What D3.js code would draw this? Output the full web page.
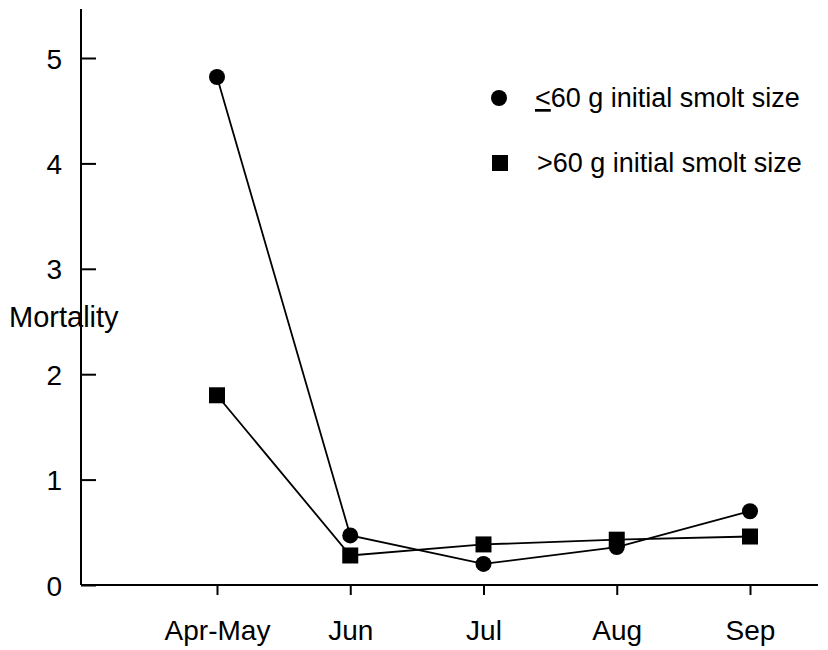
<!DOCTYPE html>
<html>
<head>
<meta charset="utf-8">
<script src="https://cdn.jsdelivr.net/npm/d3@7"></script>
<style>
  body { margin: 0; background: #fff; }
  text { font-family: "Liberation Sans", Arial, sans-serif; fill: #000; }
</style>
</head>
<body>
<svg id="canvas"></svg>
<script>
// Chart data.
var months = ['Apr-May', 'Jun', 'Jul', 'Aug', 'Sep'];
var smallSmolt = [4.82, 0.47, 0.20, 0.36, 0.70];   // <=60 g, circles
var largeSmolt = [1.80, 0.28, 0.385, 0.43, 0.46];  // >60 g, squares
var yTicks = [0, 1, 2, 3, 4, 5];
var legendLabels = ['60 g initial smolt size', '>60 g initial smolt size'];

// Canvas settings.
var canvas = {
  w: 828,
  h: 650,
  left: 81,
  right: 818,
  top: 9,
  bottom: 585,
  font: 28,
  legendFont: 27
};

var svg = d3.select('#canvas')
            .attr('width', canvas.w)
            .attr('height', canvas.h);

// Scales.
var x = d3.scalePoint()
          .domain(months)
          .range([217, 750]);

var y = d3.scaleLinear()
          .domain([0, 5])
          .range([canvas.bottom, 58]);

// Y axis label, drawn under the axis line.
svg.append('text')
   .attr('x', 9)
   .attr('y', 327)
   .style('font-size', '29px')
   .text('Mortality');

// Y axis.
var yAxis = svg.append('g')
               .attr('transform', 'translate(' + canvas.left + ',0)')
               .call(d3.axisRight(y).tickValues(yTicks).tickSize(15).tickFormat(d3.format('d')));

yAxis.select('.domain').remove();
yAxis.selectAll('line').attr('stroke', '#000').attr('stroke-width', 2);
yAxis.selectAll('text')
     .attr('x', -19)
     .attr('dy', '0.36em')
     .attr('text-anchor', 'end')
     .style('font-size', canvas.font + 'px');

svg.append('line')
   .attr('x1', canvas.left).attr('x2', canvas.left)
   .attr('y1', canvas.top).attr('y2', canvas.bottom)
   .attr('stroke', '#000').attr('stroke-width', 2);

// X axis.
var xAxis = svg.append('g')
               .attr('transform', 'translate(0,' + canvas.bottom + ')')
               .call(d3.axisBottom(x).tickSize(10).tickSizeOuter(0));

xAxis.select('.domain').remove();
xAxis.selectAll('line').attr('stroke', '#000').attr('stroke-width', 2);
xAxis.selectAll('text')
     .attr('y', 55)
     .attr('dy', 0)
     .style('font-size', canvas.font + 'px');

svg.append('line')
   .attr('x1', canvas.left).attr('x2', canvas.right)
   .attr('y1', canvas.bottom).attr('y2', canvas.bottom)
   .attr('stroke', '#000').attr('stroke-width', 2);

// Line generator.
var line = d3.line()
             .x(function(d, i) { return x(months[i]); })
             .y(function(d) { return y(d); });

// Series lines.
[smallSmolt, largeSmolt].forEach(function(series) {
  svg.append('path')
     .datum(series)
     .attr('d', line)
     .attr('fill', 'none')
     .attr('stroke', '#000')
     .attr('stroke-width', 1.8);
});

// Circle markers.
svg.append('g').selectAll('circle')
   .data(smallSmolt)
   .enter()
   .append('circle')
   .attr('cx', function(d, i) { return x(months[i]); })
   .attr('cy', function(d) { return y(d); })
   .attr('r', 8)
   .attr('fill', '#000');

// Square markers.
var sq = 16;
svg.append('g').selectAll('rect')
   .data(largeSmolt)
   .enter()
   .append('rect')
   .attr('x', function(d, i) { return x(months[i]) - sq / 2; })
   .attr('y', function(d) { return y(d) - sq / 2; })
   .attr('width', sq)
   .attr('height', sq)
   .attr('fill', '#000');

// Legend.
svg.append('circle')
   .attr('cx', 499).attr('cy', 98).attr('r', 8)
   .attr('fill', '#000');

var leg1 = svg.append('text')
              .attr('x', 535)
              .attr('y', 107)
              .style('font-size', canvas.legendFont + 'px');
leg1.append('tspan').style('text-decoration', 'underline').text('<');
leg1.append('tspan').text(legendLabels[0]);

svg.append('rect')
   .attr('x', 500 - sq / 2).attr('y', 163 - sq / 2)
   .attr('width', sq).attr('height', sq)
   .attr('fill', '#000');

svg.append('text')
   .attr('x', 537)
   .attr('y', 172)
   .style('font-size', canvas.legendFont + 'px')
   .text(legendLabels[1]);
</script>
</body>
</html>
